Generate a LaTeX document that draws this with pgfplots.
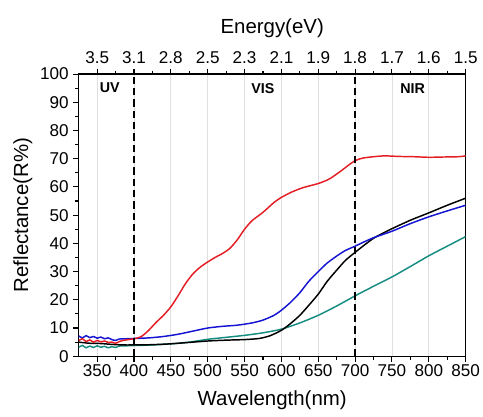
\documentclass[border=0pt]{standalone}
\usepackage{pgfplots}
\pgfplotsset{compat=1.18}
\usepackage{fontspec}
\setmainfont{Liberation Sans}
\definecolor{cred}{RGB}{228,30,36}
\definecolor{cblue}{RGB}{20,20,210}
\definecolor{cteal}{RGB}{22,140,130}

\pgfplotstableread{
x y
325 5.5
330 6.2
335 5.2
340 5.8
345 5.0
350 5.6
355 5.1
360 5.4
365 4.9
370 5.0
375 4.6
380 5.2
385 5.6
390 5.8
395 6.0
400 6.2
405 6.5
410 7.0
415 8.0
420 9.2
425 10.6
430 12.0
440 14.5
450 17.5
460 21.5
470 25.8
480 29.2
490 31.6
500 33.4
510 35.0
520 36.4
530 38.2
540 41.2
550 45.0
560 48.0
575 51.0
590 54.5
600 56.3
615 58.3
630 59.8
650 61.2
665 62.8
680 65.5
690 67.5
700 69.3
710 70.2
725 70.7
740 71.0
760 70.8
780 70.7
800 70.5
820 70.6
840 70.7
850 71.0
}\redtab

\pgfplotstableread{
x y
325 7.2
330 6.5
335 7.3
340 6.6
345 7.0
350 6.4
355 6.8
360 6.2
365 6.5
370 5.9
375 5.6
380 6.1
390 6.2
400 6.3
420 6.5
440 7.0
460 7.8
480 8.9
500 10.0
520 10.6
540 11.0
560 11.8
575 12.8
590 14.5
600 16.3
612 19.0
625 22.5
637 26.5
650 30.0
662 33.0
675 35.5
687 37.5
700 39.0
712 40.5
725 42.0
750 44.3
775 47.0
800 49.4
825 51.5
850 53.5
}\bluetab

\pgfplotstableread{
x y
325 5.0
340 4.6
355 4.5
370 4.2
385 4.0
400 4.0
425 4.1
450 4.4
475 4.9
500 5.4
525 5.7
550 5.9
570 6.3
585 7.3
600 9.2
612 11.5
625 14.5
637 18.0
650 22.0
662 26.5
675 30.5
687 34.0
700 36.8
712 39.3
725 41.8
737 43.5
750 45.2
775 48.2
800 50.8
825 53.5
850 56.0
}\blacktab

\pgfplotstableread{
x y
325 3.2
330 3.8
335 3.0
340 3.6
345 3.1
350 3.7
355 3.2
360 3.5
365 3.0
370 3.4
375 3.1
380 3.6
390 3.7
400 3.8
425 4.0
450 4.4
475 5.0
500 6.0
525 6.7
550 7.4
575 8.3
600 9.6
625 11.8
650 14.5
675 17.8
700 21.4
725 24.8
750 28.1
775 31.8
800 35.6
825 39.0
850 42.4
}\tealtab

\begin{document}
\begin{tikzpicture}
\pgfplotsset{
  every axis/.append style={
    scale only axis, width=290pt, height=211.5pt,
    xmin=325, xmax=850,
    tick align=outside,
    major tick length=4pt, minor tick length=2.5pt,
    tick style={black, line width=0.8pt},
    axis line style={line width=0.9pt},
    tick label style={font=\fontsize{12.8}{14}\selectfont},
    label style={font=\fontsize{15.3}{18}\selectfont},
    /pgf/number format/assume math mode=true,
  }
}
\begin{axis}[
  ymin=0, ymax=100,
  xtick={350,400,...,850},
  ytick={0,10,...,100},
  minor x tick num=1,
  minor y tick num=1,
  tick pos=left,
  xmajorgrids, grid style={gray!25, line width=0.6pt},
  xlabel={Wavelength(nm)},
  xlabel style={yshift=-3pt},
  ylabel={Reflectance(R\%)},
  ylabel style={yshift=-1pt},
  xticklabel style={yshift=1pt},
]
\coordinate (sw) at (rel axis cs:0,0);
\coordinate (ne) at (rel axis cs:1,1);
\addplot[cteal, line width=1.1pt, smooth, tension=0.4] table {\tealtab};
\addplot[black, line width=1.1pt, smooth, tension=0.4] table {\blacktab};
\addplot[cblue, line width=1.1pt, smooth, tension=0.4] table {\bluetab};
\addplot[cred, line width=1.1pt, smooth, tension=0.4] table {\redtab};
\addplot[black, line width=1.4pt, dash pattern=on 5.5pt off 3pt] coordinates {(400,0) (400,100)};
\addplot[black, line width=1.4pt, dash pattern=on 5.5pt off 3pt] coordinates {(700,0) (700,100)};
\node[font=\bfseries\fontsize{10.7}{12}\selectfont] at (axis cs:367,95) {UV};
\node[font=\bfseries\fontsize{10.7}{12}\selectfont] at (axis cs:575,95) {VIS};
\node[font=\bfseries\fontsize{10.7}{12}\selectfont] at (axis cs:778,95) {NIR};
\end{axis}
\begin{axis}[
  ymin=0, ymax=100,
  axis x line*=top,
  axis y line=none,
  xtick={350,400,...,850},
  xticklabels={3.5,3.1,2.8,2.5,2.3,2.1,1.9,1.8,1.7,1.6,1.5},
  minor x tick num=1,
  xlabel={Energy(eV)},
  xlabel style={yshift=4pt},
]
\end{axis}
\pgfresetboundingbox
\path[use as bounding box] ([shift={(-59pt,-45pt)}]sw) rectangle ([shift={(13pt,55.5pt)}]ne);
\end{tikzpicture}
\end{document}
